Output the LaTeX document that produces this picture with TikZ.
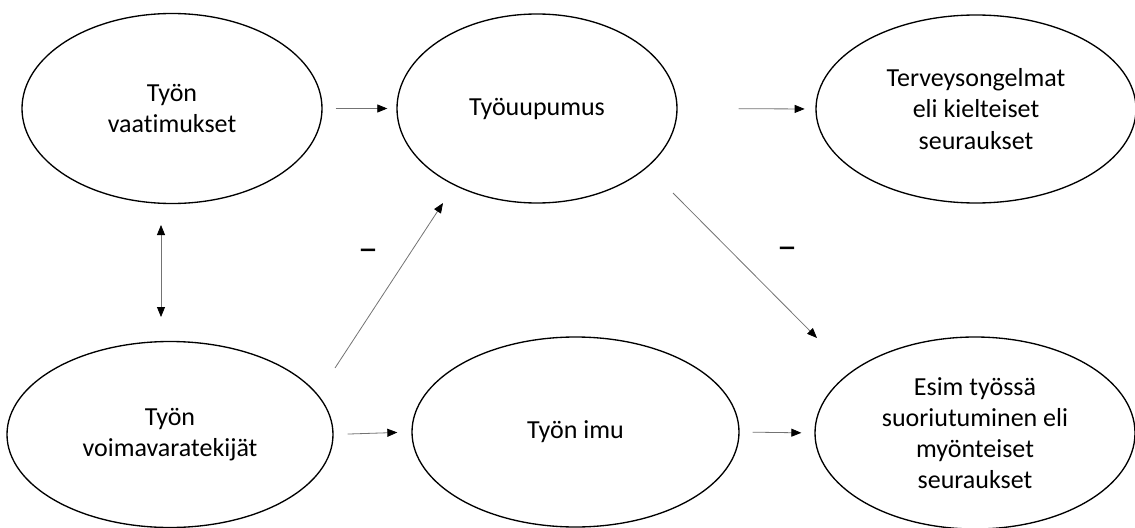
\documentclass[tikz,border=0pt]{standalone}
\usepackage{fontspec}
\setmainfont{Carlito}[Ligatures=NoCommon]
\usetikzlibrary{shapes.geometric,arrows.meta}
\begin{document}
\begin{tikzpicture}[x=0.75pt,y=-0.75pt,
  oval/.style={ellipse,draw=black,line width=1pt,inner sep=0pt,align=center,
    font=\fontsize{19.5}{23.4}\selectfont},
  link/.style={draw=black!55,line width=0.6pt,
    -{Triangle[length=7.5pt,width=6pt,color=black]}},
  both/.style={draw=black!55,line width=0.6pt,
    {Triangle[length=7.5pt,width=6pt,color=black]}-{Triangle[length=7.5pt,width=6pt,color=black]}},
  sign/.style={font=\fontsize{30}{30}\selectfont,inner sep=0pt}]
\useasboundingbox (0,0) rectangle (1135,528);

% the six concepts
\node[oval,minimum width=225pt,minimum height=142.5pt] (vaat) at (172,108.5) {Työn\\vaatimukset};
\node[oval,minimum width=210pt,minimum height=141.75pt] (uup) at (537,108.5) {Työuupumus};
\node[oval,minimum width=240pt,minimum height=141pt] (terv) at (976,109) {Terveysongelmat\\eli kielteiset\\seuraukset};
\node[oval,minimum width=244.5pt,minimum height=139.5pt] (voim) at (170,434.5) {Työn\\voimavaratekijät};
\node[oval,minimum width=245.25pt,minimum height=142.5pt] (imu) at (575.5,432) {Työn imu};
\node[oval,minimum width=240pt,minimum height=144pt] (esim) at (975,433) {Esim työssä\\suoriutuminen eli\\myönteiset\\seuraukset};

% free ends of the slanted and vertical connectors
\coordinate (voimOut) at (335,368);
\coordinate (uupIn) at (443,203);
\coordinate (uupOut) at (673,193);
\coordinate (esimIn) at (817,338);
\coordinate (vaatEnd) at (161,225);
\coordinate (voimEnd) at (161,317);

% horizontal paths
\draw[link,shorten <=9.75pt,shorten >=6.75pt] (vaat.east) -- (uup.west);
\draw[link,shorten <=45.75pt,shorten >=8pt] (uup.east) -- (terv.west);
\draw[link,shorten <=10.5pt,shorten >=10.5pt] (voim.east) -- (imu.west);
\draw[link,shorten <=9.75pt,shorten >=9.75pt] (imu.east) -- (esim.west);

% slanted paths and the two-way link
\draw[link] (voimOut) -- (uupIn);
\draw[link] (uupOut) -- (esimIn);
\draw[both] (vaatEnd) -- (voimEnd);

% negative signs
\node[sign] (neg1) at (368,255) {–};
\node[sign] (neg2) at (787,253) {–};
\end{tikzpicture}
\end{document}
